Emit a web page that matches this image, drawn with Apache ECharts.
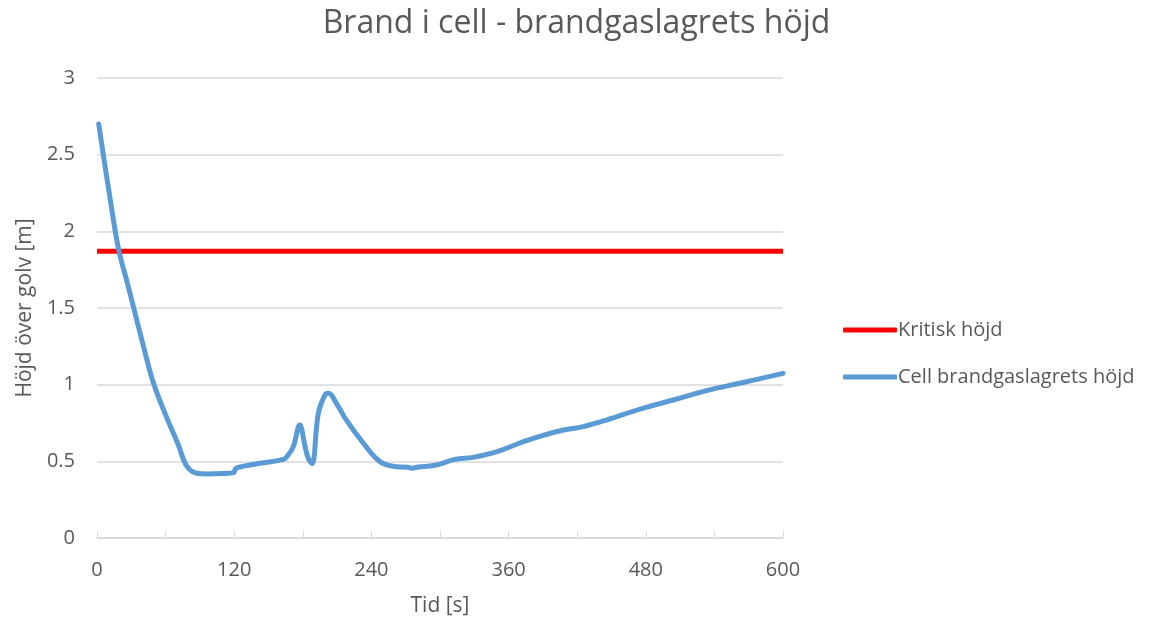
<!DOCTYPE html>
<html>
<head>
<meta charset="utf-8">
<script src="https://cdn.jsdelivr.net/npm/echarts@6/dist/echarts.min.js"></script>
<style>html,body{margin:0;padding:0;background:#fff}#c{width:1153px;height:624px}</style>
</head>
<body>
<div id="c"></div>
<script>
var titleText = 'Brand i cell - brandgaslagrets höjd';
var xName = 'Tid [s]';
var yName = 'Höjd över golv [m]';
var seriesNames = ['Kritisk höjd', 'Cell brandgaslagrets höjd'];
var criticalTimes = [0, 600];
var criticalHeights = [1.87, 1.87];
var cellTimes = [1.5, 5.5, 11.4, 18.7, 27, 31.8, 40.5, 49.2, 61, 71, 78.4, 87.2, 96, 110, 119.5, 121, 123, 140, 163, 166, 171.7, 177.3, 182, 184.8, 188, 193.6, 199.4, 202.3, 210, 218, 233, 247.5, 262, 272, 276, 280, 297, 313, 329, 350, 373, 388, 408, 425, 446, 475, 504, 533, 562, 600];
var cellHeights = [2.70, 2.50, 2.216, 1.89, 1.65, 1.509, 1.255, 1.015, 0.785, 0.61, 0.47, 0.422, 0.417, 0.42, 0.426, 0.45, 0.46, 0.484, 0.513, 0.53, 0.596, 0.737, 0.596, 0.52, 0.485, 0.813, 0.933, 0.944, 0.87, 0.77, 0.618, 0.498, 0.465, 0.461, 0.455, 0.462, 0.476, 0.513, 0.526, 0.563, 0.628, 0.665, 0.704, 0.726, 0.77, 0.84, 0.90, 0.961, 1.009, 1.074];

function zip(a, b) { return a.map(function (v, i) { return [v, b[i]]; }); }

var chart = echarts.init(document.getElementById('c'));
var font = 'Open Sans, Noto Sans, sans-serif';
chart.setOption({
  animation: false,
  title: {
    text: titleText, left: 'center', top: 3,
    textStyle: { fontFamily: font, fontSize: 32, fontWeight: 'normal', color: '#595959' }
  },
  legend: {
    orient: 'vertical', left: 838, top: 315,
    itemWidth: 54, itemHeight: 5, itemGap: 27, icon: 'roundRect',
    textStyle: { fontFamily: font, fontSize: 20, color: '#595959', padding: [0, 0, 0, -4] },
    data: seriesNames
  },
  grid: { left: 97, right: 370, top: 78, bottom: 86 },
  xAxis: {
    type: 'value', min: 0, max: 600, interval: 60,
    name: xName, nameLocation: 'middle', nameGap: 58,
    nameTextStyle: { fontFamily: font, fontSize: 21, color: '#595959' },
    axisLine: { show: true, lineStyle: { color: '#d9d9d9', width: 1.5 } },
    axisTick: { show: true, inside: true, length: 7, lineStyle: { color: '#d9d9d9' } },
    splitLine: { show: false },
    axisLabel: {
      fontFamily: font, fontSize: 20, color: '#595959', margin: 22,
      formatter: function (v) { return v % 120 === 0 ? String(v) : ''; }
    }
  },
  yAxis: {
    type: 'value', min: 0, max: 3, interval: 0.5,
    name: yName, nameLocation: 'middle', nameGap: 61, nameRotate: 90,
    nameTextStyle: { fontFamily: font, fontSize: 21, color: '#595959' },
    axisLine: { show: false }, axisTick: { show: false },
    splitLine: { lineStyle: { color: '#d9d9d9', width: 1.5 } },
    axisLabel: { fontFamily: font, fontSize: 20, color: '#595959', margin: 22 }
  },
  series: [
    {
      name: seriesNames[0], type: 'line', data: zip(criticalTimes, criticalHeights),
      showSymbol: false, symbol: 'none', lineStyle: { color: '#ff0000', width: 5 }, itemStyle: { color: '#ff0000' }
    },
    {
      name: seriesNames[1], type: 'line', data: zip(cellTimes, cellHeights),
      showSymbol: false, symbol: 'none', smooth: 0.4,
      lineStyle: { color: '#5b9bd5', width: 5, cap: 'round', join: 'round' }, itemStyle: { color: '#5b9bd5' }
    }
  ]
});
</script>
</body>
</html>
